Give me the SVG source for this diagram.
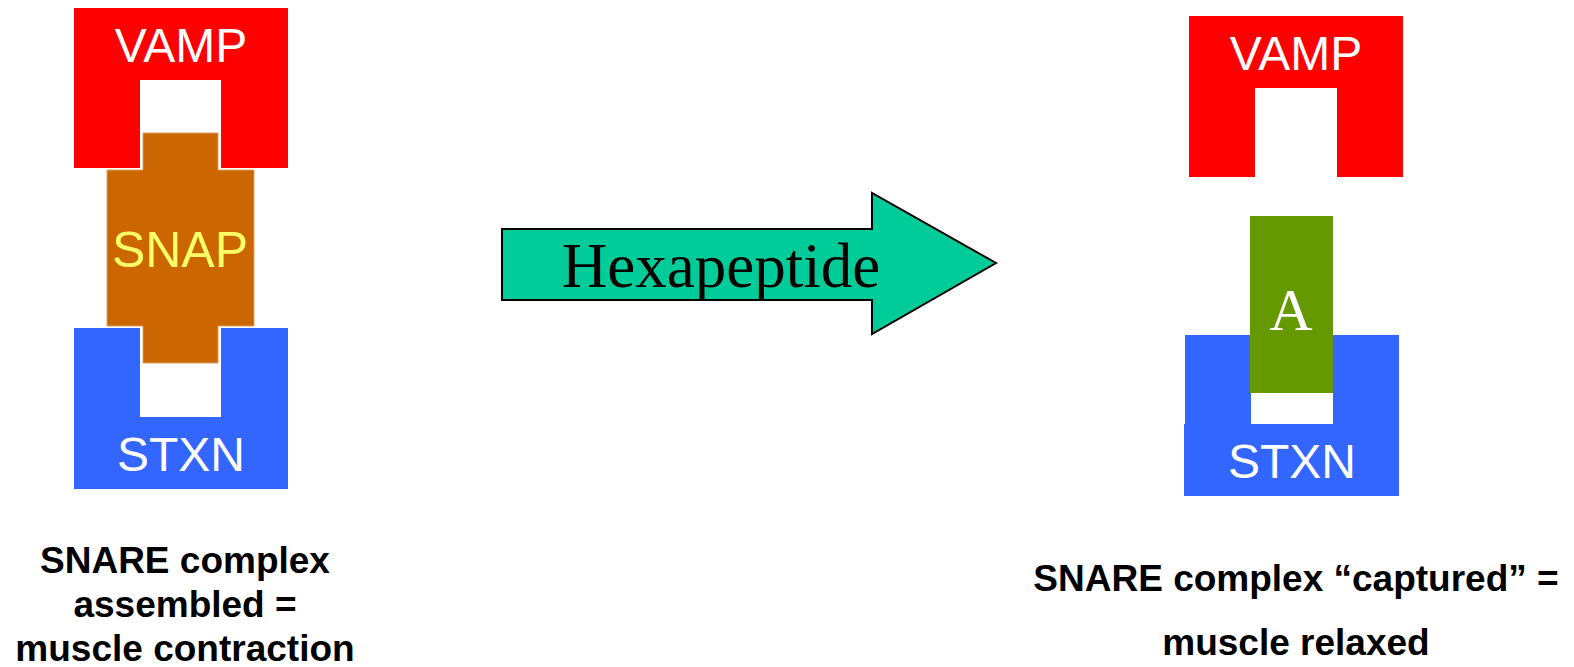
<svg xmlns="http://www.w3.org/2000/svg" width="1574" height="667" viewBox="0 0 1574 667">
<style>
.vamp{fill:#FF0000}
.stxn{fill:#3366FF}
.snap{fill:#CC6600;stroke:#D9A066;stroke-width:1}
.ahex{fill:#669900}
.lbl{font-family:"Liberation Sans",Arial,sans-serif;font-size:48px;text-anchor:middle;fill:#FFFFFF}
.cap{font-family:"Liberation Sans",Arial,sans-serif;font-size:37px;font-weight:bold;text-anchor:middle;fill:#000000}
.serif{font-family:"Liberation Serif","Times New Roman",serif;text-anchor:middle}
</style>
<rect width="1574" height="667" fill="#FFFFFF"/>
<g id="left-vamp">
<rect class="vamp" x="74" y="8" width="214" height="72"/>
<rect class="vamp" x="74" y="79" width="66" height="89"/>
<rect class="vamp" x="221" y="79" width="67" height="89"/>
<text class="lbl" x="181" y="62">VAMP</text>
</g>
<g id="left-stxn">
<rect class="stxn" x="74" y="328" width="66" height="90"/>
<rect class="stxn" x="221" y="328" width="67" height="90"/>
<rect class="stxn" x="74" y="417" width="214" height="72"/>
<text class="lbl" x="181" y="471">STXN</text>
</g>
<g id="left-snap">
<path class="snap" d="M143,133 H218 V170 H254 V326 H218 V363 H143 V326 H107 V170 H143 Z"/>
<text class="lbl" x="180" y="267" style="fill:#FFFF66;font-size:50px">SNAP</text>
</g>
<g id="connectors">
<path d="M502,229 H872 V193 L996,263 L872,334 V300 H502 Z" fill="#00CC99" stroke="#000000" stroke-width="2" stroke-linejoin="miter"/>
<text class="serif" x="721" y="287" font-size="63" fill="#000000">Hexapeptide</text>
</g>
<g id="right-vamp">
<rect class="vamp" x="1189" y="16" width="214" height="72"/>
<rect class="vamp" x="1189" y="87" width="66" height="90"/>
<rect class="vamp" x="1337" y="87" width="66" height="90"/>
<text class="lbl" x="1296" y="70">VAMP</text>
</g>
<g id="right-stxn">
<rect class="stxn" x="1185" y="335" width="214" height="90"/>
<rect x="1251" y="390" width="82" height="35" fill="#FFFFFF"/>
<rect class="stxn" x="1184" y="424" width="215" height="72"/>
<text class="lbl" x="1292" y="478">STXN</text>
</g>
<g id="right-a">
<rect class="ahex" x="1250" y="216" width="83" height="177"/>
<text class="serif" x="1291" y="330" font-size="60" fill="#FFFFFF">A</text>
</g>
<g id="caption-left">
<text class="cap" x="185" y="573">SNARE complex</text>
<text class="cap" x="185" y="617">assembled =</text>
<text class="cap" x="185" y="661">muscle contraction</text>
</g>
<g id="caption-right">
<text class="cap" x="1296" y="591">SNARE complex “captured” =</text>
<text class="cap" x="1296" y="655">muscle relaxed</text>
</g>
</svg>
